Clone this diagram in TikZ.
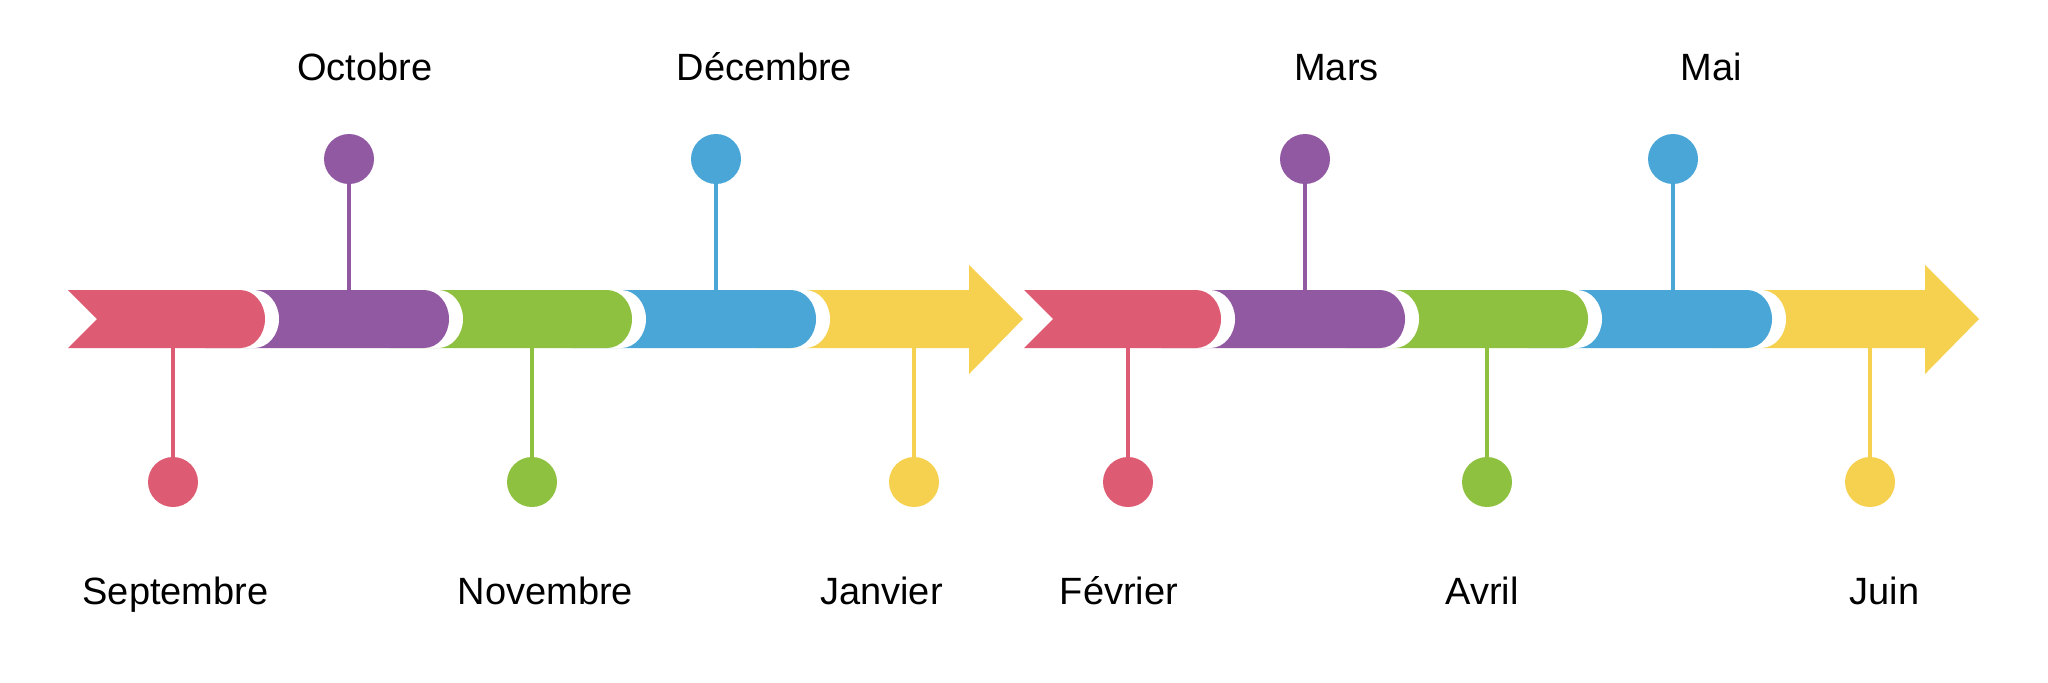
\documentclass[tikz,border=0pt]{standalone}
\usepackage{fontspec}
\setmainfont{Liberation Sans}
\definecolor{mred}{HTML}{DE5C73}
\definecolor{mpurple}{HTML}{9259A3}
\definecolor{mgreen}{HTML}{8FC140}
\definecolor{mblue}{HTML}{49A6D7}
\definecolor{myellow}{HTML}{F5D14F}

% one bar piece with a round right end and a white gap behind it
\newcommand{\timeseg}[3]{%
  \fill[white] ({#2+14},290) -- ({#3-11},290) arc[start angle=-90,end angle=90,x radius=25,y radius=29] -- ({#2+14},348) -- cycle;
  \fill[#1] (#2,290) -- ({#3-25},290) arc[start angle=-90,end angle=90,x radius=25,y radius=29] -- (#2,348) -- cycle;}

\begin{document}
\begin{tikzpicture}[x=0.5pt,y=-0.5pt,
  dot/.style={circle,inner sep=0pt,minimum size=25pt},
  stem/.style={line width=2.4pt},
  month/.style={font=\fontsize{19}{22}\selectfont,anchor=base,inner sep=0pt}]
\useasboundingbox (0,0) rectangle (2048,682);

% first arrow
\fill[myellow] (756,290) -- (969,290) -- (969,265) -- (1023,319) -- (969,374) -- (969,348) -- (756,348) -- cycle;
\timeseg{mblue}{572}{816}
\timeseg{mgreen}{389}{632}
\timeseg{mpurple}{205}{449}
\fill[white] (82,290) -- (254,290) arc[start angle=-90,end angle=90,x radius=25,y radius=29] -- (82,348) -- (111,319) -- cycle;
\fill[mred] (68,290) -- (240,290) arc[start angle=-90,end angle=90,x radius=25,y radius=29] -- (68,348) -- (97,319) -- cycle;

% second arrow
\fill[myellow] (1712,290) -- (1925,290) -- (1925,265) -- (1979,319) -- (1925,374) -- (1925,348) -- (1712,348) -- cycle;
\timeseg{mblue}{1528}{1772}
\timeseg{mgreen}{1345}{1588}
\timeseg{mpurple}{1161}{1405}
\fill[white] (1038,290) -- (1210,290) arc[start angle=-90,end angle=90,x radius=25,y radius=29] -- (1038,348) -- (1067,319) -- cycle;
\fill[mred] (1024,290) -- (1196,290) arc[start angle=-90,end angle=90,x radius=25,y radius=29] -- (1024,348) -- (1053,319) -- cycle;

% dots
\node[dot,fill=mred] (dsep) at (173,482) {};
\node[dot,fill=mpurple] (doct) at (349,159) {};
\node[dot,fill=mgreen] (dnov) at (532,482) {};
\node[dot,fill=mblue] (ddec) at (716,159) {};
\node[dot,fill=myellow] (djan) at (914,482) {};
\node[dot,fill=mred] (dfev) at (1128,482) {};
\node[dot,fill=mpurple] (dmar) at (1305,159) {};
\node[dot,fill=mgreen] (davr) at (1487,482) {};
\node[dot,fill=mblue] (dmai) at (1673,159) {};
\node[dot,fill=myellow] (djui) at (1870,482) {};

% stems
\coordinate (bsep) at (173,348);
\coordinate (boct) at (349,290);
\coordinate (bnov) at (532,348);
\coordinate (bdec) at (716,290);
\coordinate (bjan) at (914,348);
\coordinate (bfev) at (1128,348);
\coordinate (bmar) at (1305,290);
\coordinate (bavr) at (1487,348);
\coordinate (bmai) at (1673,290);
\coordinate (bjui) at (1870,348);
\draw[stem,mred] (bsep) -- (dsep);
\draw[stem,mpurple] (boct) -- (doct);
\draw[stem,mgreen] (bnov) -- (dnov);
\draw[stem,mblue] (bdec) -- (ddec);
\draw[stem,myellow] (bjan) -- (djan);
\draw[stem,mred] (bfev) -- (dfev);
\draw[stem,mpurple] (bmar) -- (dmar);
\draw[stem,mgreen] (bavr) -- (davr);
\draw[stem,mblue] (bmai) -- (dmai);
\draw[stem,myellow] (bjui) -- (djui);

% months
\node[month] (loct) at (365,80) {Octobre};
\node[month] (ldec) at (764.5,80) {Décembre};
\node[month] (lmar) at (1336.5,80) {Mars};
\node[month] (lmai) at (1711.5,80) {Mai};
\node[month] (lsep) at (175.5,604) {Septembre};
\node[month] (lnov) at (545.5,604) {Novembre};
\node[month] (ljan) at (881.5,604) {Janvier};
\node[month] (lfev) at (1119,604) {Février};
\node[month] (lavr) at (1482,604) {Avril};
\node[month] (ljui) at (1884.5,604) {Juin};
\end{tikzpicture}
\end{document}
